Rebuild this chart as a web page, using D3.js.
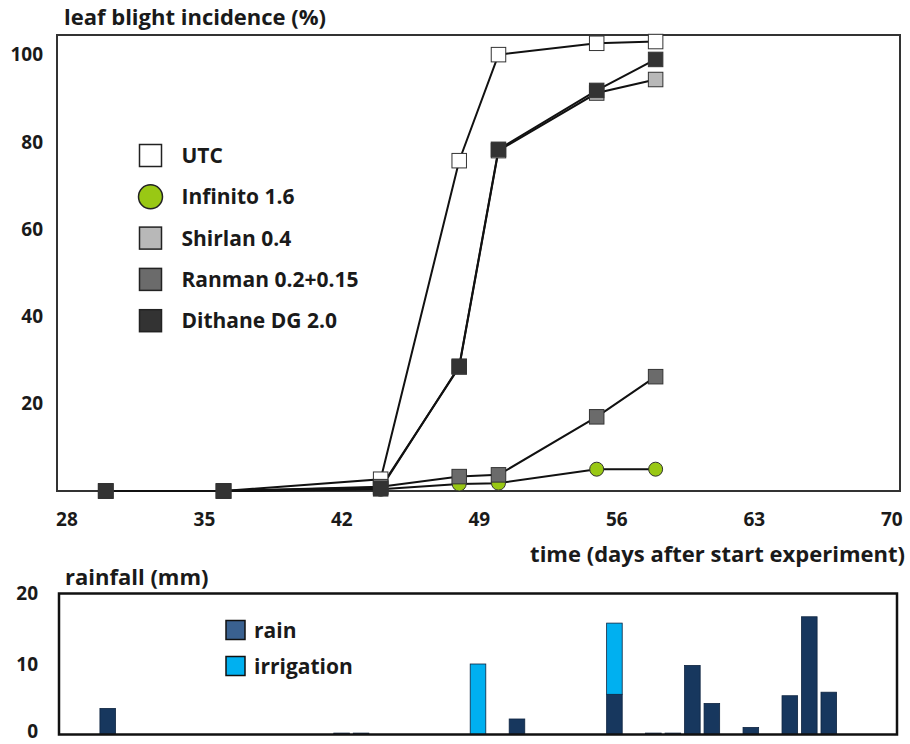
<!DOCTYPE html>
<html>
<head>
<meta charset="utf-8">
<script src="https://cdn.jsdelivr.net/npm/d3@7"></script>
<style>
  body { margin: 0; background: #fff; }
  text { font-family: "Open Sans", sans-serif; font-weight: 700; fill: #1a1a1a; }
</style>
</head>
<body>
<svg id="chart" width="910" height="744"></svg>
<script>
// leaf blight incidence (%) per assessment day
var days = [30, 36, 44, 48, 50, 55, 58];
var utc = [0, 0, 2.7, 75.7, 100, 102.6, 103.0];
var infinito = [0, 0, 0.4, 1.6, 1.8, 5.0, 5.0];
var shirlan = [0, 0, 0.8, 28.4, 78.0, 91.2, 94.3];
var ranman = [0, 0, 1.0, 3.3, 3.7, 17.0, 26.2];
var dithane = [0, 0, 0.5, 28.6, 78.3, 91.8, 98.9];
var xTicks = [28, 35, 42, 49, 56, 63, 70];
var yTicks = [20, 40, 60, 80, 100];

// rainfall / irrigation (mm) per day
var rainDays = [30, 42, 43, 49, 51, 56, 58, 59, 60, 61, 63, 65, 66, 67];
var rain = [3.7, 0.2, 0.2, 0, 2.2, 5.7, 0.2, 0.2, 9.8, 4.4, 1.0, 5.5, 16.7, 6.0];
var irrigation = [0, 0, 0, 10.0, 0, 10.1, 0, 0, 0, 0, 0, 0, 0, 0];
var rainTicks = [0, 10, 20];

var series = [
  {name: 'UTC', values: utc, fill: '#ffffff', shape: 'square'},
  {name: 'Infinito 1.6', values: infinito, fill: '#99c814', shape: 'circle'},
  {name: 'Shirlan 0.4', values: shirlan, fill: '#b8b8b8', shape: 'square'},
  {name: 'Ranman 0.2+0.15', values: ranman, fill: '#6b6b6b', shape: 'square'},
  {name: 'Dithane DG 2.0', values: dithane, fill: '#333333', shape: 'square'}
];

var svg = d3.select('#chart');

//---------------- top chart
var box = {left: 57, top: 35, right: 900, bottom: 491};
var x = d3.scaleLinear().domain([28, 70]).range([66.4, 891.3]);
var y = d3.scaleLinear().domain([0, 104.5]).range([box.bottom, box.top]);

var gTop = svg.append('g');
gTop.append('rect')
  .attr('x', box.left).attr('y', box.top)
  .attr('width', box.right - box.left).attr('height', box.bottom - box.top)
  .attr('fill', 'none').attr('stroke', '#333').attr('stroke-width', 2);

var xAxis = gTop.append('g').attr('transform', 'translate(0,' + box.bottom + ')')
  .call(d3.axisBottom(x).tickValues(xTicks).tickSize(0).tickPadding(22));
xAxis.select('.domain').remove();
xAxis.selectAll('text').style('font-size', '19px');

var yAxis = gTop.append('g').attr('transform', 'translate(' + box.left + ',0)')
  .call(d3.axisLeft(y).tickValues(yTicks).tickSize(0).tickPadding(14));
yAxis.select('.domain').remove();
yAxis.selectAll('text').style('font-size', '19px');

gTop.append('text').attr('x', 64).attr('y', 24.5).style('font-size', '22px')
  .text('leaf blight incidence (%)');
gTop.append('text').attr('x', 905).attr('y', 562).attr('text-anchor', 'end')
  .style('font-size', '22px').text('time (days after start experiment)');

var line = d3.line().x(function(d, i){ return x(days[i]); }).y(function(d){ return y(d); });
gTop.append('g').selectAll('path').data(series).join('path')
  .attr('d', function(s){ return line(s.values); })
  .attr('fill', 'none').attr('stroke', '#111').attr('stroke-width', 2);

var msize = 14.5;
series.forEach(function(s){
  var g = gTop.append('g');
  var pts = s.values.map(function(v, i){ return {d: days[i], v: v}; });
  if (s.shape === 'circle') {
    g.selectAll('circle').data(pts).join('circle')
      .attr('cx', function(p){ return x(p.d); }).attr('cy', function(p){ return y(p.v); })
      .attr('r', 7).attr('fill', s.fill).attr('stroke', '#333').attr('stroke-width', 1);
  } else {
    g.selectAll('rect').data(pts).join('rect')
      .attr('x', function(p){ return x(p.d) - msize / 2; }).attr('y', function(p){ return y(p.v) - msize / 2; })
      .attr('width', msize).attr('height', msize)
      .attr('fill', s.fill).attr('stroke', '#333').attr('stroke-width', 1);
  }
});

// legend
var leg = gTop.append('g').attr('transform', 'translate(150.5,155.5)');
var legItem = leg.selectAll('g').data(series).join('g')
  .attr('transform', function(s, i){ return 'translate(0,' + (i * 41.3) + ')'; });
legItem.each(function(s){
  var g = d3.select(this);
  if (s.shape === 'circle') {
    g.append('circle').attr('r', 12).attr('fill', s.fill).attr('stroke', '#222').attr('stroke-width', 1.5);
  } else {
    g.append('rect').attr('x', -11).attr('y', -11).attr('width', 22).attr('height', 22)
      .attr('fill', s.fill).attr('stroke', '#222').attr('stroke-width', 1.5);
  }
});
legItem.append('text').attr('x', 31).attr('y', 7.5).style('font-size', '21px')
  .text(function(s){ return s.name; });

//---------------- bottom chart
var bbox = {left: 59, top: 593.5, right: 897, bottom: 734.5};
var xb = d3.scaleBand().domain(d3.range(28, 71)).range([bbox.left, bbox.right])
  .paddingInner(0.2).paddingOuter(0.1);
var yb = d3.scaleLinear().domain([0, 20]).range([bbox.bottom, bbox.top]);

var gBottom = svg.append('g');
var table = rainDays.map(function(d, i){ return {day: d, rain: rain[i], irrigation: irrigation[i]}; });
var stacked = d3.stack().keys(['rain', 'irrigation'])(table);
var barColor = {rain: '#17375e', irrigation: '#00b0f0'};

gBottom.append('g').selectAll('g').data(stacked).join('g')
  .attr('fill', function(s){ return barColor[s.key]; })
  .selectAll('rect').data(function(s){ return s.filter(function(p){ return p[1] > p[0]; }); }).join('rect')
  .attr('x', function(p){ return xb(p.data.day); })
  .attr('width', xb.bandwidth())
  .attr('y', function(p){ return yb(p[1]); })
  .attr('height', function(p){ return yb(p[0]) - yb(p[1]); })
  .attr('stroke', '#0e2440').attr('stroke-width', 0.8);

gBottom.append('rect')
  .attr('x', bbox.left).attr('y', bbox.top)
  .attr('width', bbox.right - bbox.left).attr('height', bbox.bottom - bbox.top)
  .attr('fill', 'none').attr('stroke', '#111').attr('stroke-width', 2.5);

var ybAxis = gBottom.append('g').attr('transform', 'translate(' + bbox.left + ',0)')
  .call(d3.axisLeft(yb).tickValues(rainTicks).tickSize(0).tickPadding(21));
ybAxis.select('.domain').remove();
ybAxis.selectAll('text').style('font-size', '19px')
  .attr('y', function(d){ return d === 0 ? -3 : 0; });

gBottom.append('text').attr('x', 65).attr('y', 585).style('font-size', '22px').text('rainfall (mm)');

var bleg = gBottom.append('g').attr('transform', 'translate(226,630)');
var bItem = bleg.selectAll('g').data([
  {name: 'rain', fill: '#3a6190'}, {name: 'irrigation', fill: '#00b0f0'}
]).join('g').attr('transform', function(d, i){ return 'translate(0,' + (i * 36) + ')'; });
bItem.append('rect').attr('x', 0).attr('y', -9.5).attr('width', 19).attr('height', 19)
  .attr('fill', function(d){ return d.fill; }).attr('stroke', '#111').attr('stroke-width', 1.5);
bItem.append('text').attr('x', 28).attr('y', 7.5).style('font-size', '21px')
  .text(function(d){ return d.name; });
</script>
</body>
</html>
